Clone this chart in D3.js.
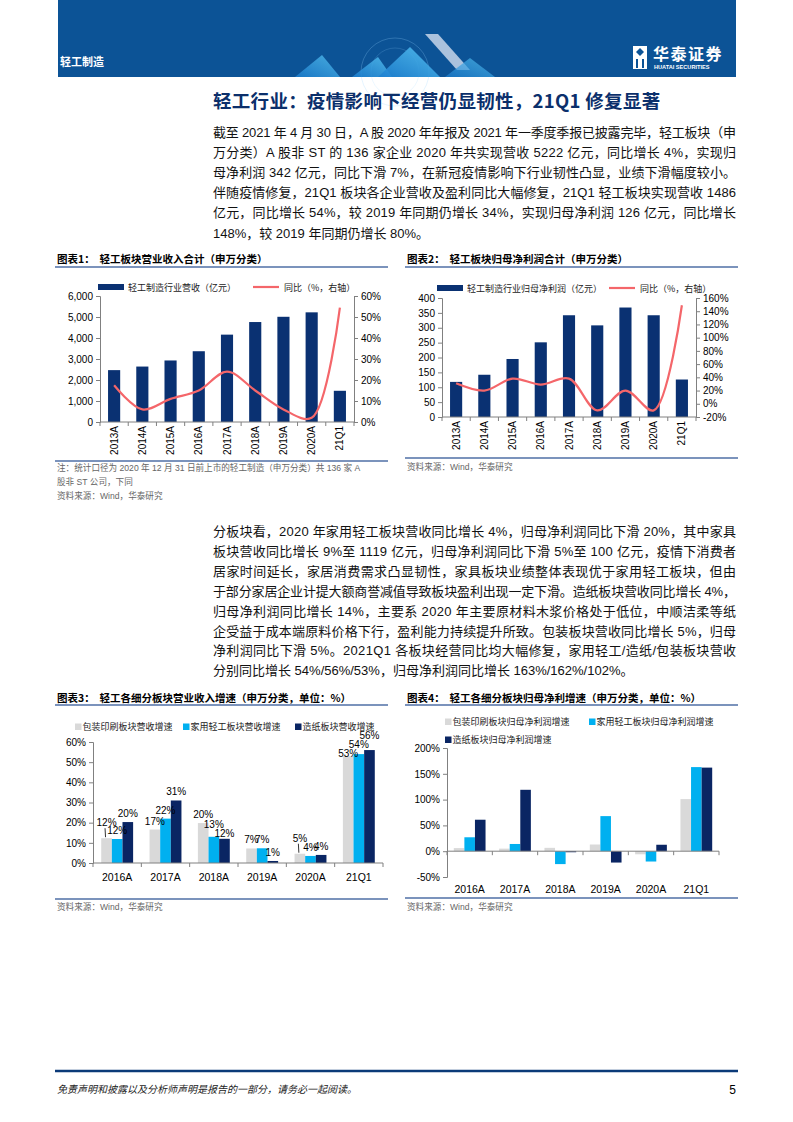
<!DOCTYPE html>
<html><head><meta charset="utf-8">
<script src="https://cdn.jsdelivr.net/npm/d3@7"></script>
<style>body{margin:0;background:#fff}svg{display:block}</style>
</head><body>
<svg id="page" width="793" height="1122"></svg>
<script>
// ---------------- DATA ----------------
const years = ["2013A","2014A","2015A","2016A","2017A","2018A","2019A","2020A","21Q1"];
const revenue = [2470,2640,2930,3370,4160,4760,5010,5222,1486];
const revenueYoY = [17.5,6,11,15,24,15,6,2,54.5];
const profit = [118,142,195,251,342,308,368,342,126];
const profitYoY = [31,20,38,29,38,-10,20,-10,149];
const revLeftTicks = [0,1000,2000,3000,4000,5000,6000];
const revRightTicks = [0,10,20,30,40,50,60];
const profLeftTicks = [0,50,100,150,200,250,300,350,400];
const profRightTicks = [-20,0,20,40,60,80,100,120,140,160];

const segCats = ["2016A","2017A","2018A","2019A","2020A","21Q1"];
const revSeriesNames = ["包装印刷板块营收增速","家用轻工板块营收增速","造纸板块营收增速"];
const pkgRev = [12.3,16.6,19.8,7.2,4.6,53];
const homeRev = [11.9,22,13,7.3,3.5,54];
const paperRev = [20.3,31,12,1,4,56];
const segRevTicks = [0,10,20,30,40,50,60];
const profSeriesNames = ["包装印刷板块归母净利润增速","家用轻工板块归母净利润增速","造纸板块归母净利润增速"];
const pkgProfit = [6,5,6.5,13,-6,101];
const homeProfit = [27,14,-25,68,-20,163];
const paperProfit = [61,119,-2,-22,12.5,162];
const segProfTicks = [-50,0,50,100,150,200];

const para1 = [
 "截至 2021 年 4 月 30 日，A 股 2020 年年报及 2021 年一季度季报已披露完毕，轻工板块（申",
 "万分类）A 股非 ST 的 136 家企业 2020 年共实现营收 5222 亿元，同比增长 4%，实现归",
 "母净利润 342 亿元，同比下滑 7%，在新冠疫情影响下行业韧性凸显，业绩下滑幅度较小。",
 "伴随疫情修复，21Q1 板块各企业营收及盈利同比大幅修复，21Q1 轻工板块实现营收 1486",
 "亿元，同比增长 54%，较 2019 年同期仍增长 34%，实现归母净利润 126 亿元，同比增长",
 "148%，较 2019 年同期仍增长 80%。"
];
const para2 = [
 "分板块看，2020 年家用轻工板块营收同比增长 4%，归母净利润同比下滑 20%，其中家具",
 "板块营收同比增长 9%至 1119 亿元，归母净利润同比下滑 5%至 100 亿元，疫情下消费者",
 "居家时间延长，家居消费需求凸显韧性，家具板块业绩整体表现优于家用轻工板块，但由",
 "于部分家居企业计提大额商誉减值导致板块盈利出现一定下滑。造纸板块营收同比增长 4%，",
 "归母净利润同比增长 14%，主要系 2020 年主要原材料木浆价格处于低位，中顺洁柔等纸",
 "企受益于成本端原料价格下行，盈利能力持续提升所致。包装板块营收同比增长 5%，归母",
 "净利润同比下滑 5%。2021Q1 各板块经营同比均大幅修复，家用轻工/造纸/包装板块营收",
 "分别同比增长 54%/56%/53%，归母净利润同比增长 163%/162%/102%。"
];

// ---------------- STYLE ----------------
const FONT = "'Liberation Sans', Arial, 'Noto Sans CJK SC', sans-serif";
const CJK = "'Noto Sans CJK SC', sans-serif";
const NAVY = "#0b2f6b";
const BAR = "#0a3172";
const RED = "#f4666a";
const GREY = "#d9d9d9";
const CYAN = "#00b0f0";
const DARK = "#0a2563";
const RULE = "#4f6fa6";

const svg = d3.select("#page");

// ---------------- HEADER ----------------
svg.append("rect").attr("x",58).attr("y",0).attr("width",678).attr("height",77).attr("fill","#0c5396");
const defs = svg.append("defs");
const g1 = defs.append("linearGradient").attr("id","gA").attr("x1",0).attr("y1",1).attr("x2",1).attr("y2",0);
g1.append("stop").attr("offset","0").attr("stop-color","#1c7fd0");
g1.append("stop").attr("offset","1").attr("stop-color","#57c3f2");
const hd = svg.append("g");
hd.append("circle").attr("cx",395).attr("cy",72).attr("r",34).attr("fill","none").attr("stroke","rgba(150,210,255,0.25)");
hd.append("circle").attr("cx",395).attr("cy",72).attr("r",24).attr("fill","none").attr("stroke","rgba(150,210,255,0.18)");
hd.append("polygon").attr("points","295,77 322,55 340,77").attr("fill","url(#gA)").attr("opacity",0.8);
hd.append("polygon").attr("points","352,77 378,57 392,77").attr("fill","url(#gA)").attr("opacity",0.85);
hd.append("polygon").attr("points","378,77 410,47 440,77").attr("fill","url(#gA)").attr("opacity",0.9);
hd.append("polygon").attr("points","425,34 438,34 470,70 457,70").attr("fill","#c8d6ea").attr("opacity",0.85);
hd.append("polygon").attr("points","445,77 470,58 495,77").attr("fill","url(#gA)").attr("opacity",0.7);
hd.append("text").attr("x",60).attr("y",66).attr("fill","#fff").attr("font-family",CJK).attr("font-weight",700).attr("font-size",11).text("轻工制造");
const lg = hd.append("g");
lg.append("rect").attr("x",633).attr("y",46).attr("width",14).attr("height",23).attr("fill","#fff");
lg.append("polygon").attr("points","636,52 640,48 644,52 640,56").attr("fill","#0c5396");
lg.append("rect").attr("x",636).attr("y",59).attr("width",2).attr("height",9).attr("fill","#0c5396");
lg.append("rect").attr("x",642).attr("y",59).attr("width",2).attr("height",9).attr("fill","#0c5396");
lg.append("text").attr("x",653).attr("y",60).attr("fill","#fff").attr("font-family",CJK).attr("font-weight",700).attr("font-size",16).attr("letter-spacing",1.5).text("华泰证券");
lg.append("text").attr("x",654).attr("y",69).attr("fill","#fff").attr("font-family",FONT).attr("font-weight",700).attr("font-size",5.6).text("HUATAI SECURITIES");

// ---------------- HEADING & TEXT ----------------
svg.append("text").attr("x",213).attr("y",108).attr("fill",NAVY).attr("font-family",CJK).attr("font-weight",700)
  .attr("font-size",18.5).attr("letter-spacing",0.3).text("轻工行业：疫情影响下经营仍显韧性，21Q1 修复显著");

function paragraph(lines, y0, step){
  lines.forEach((t,i)=>{
    const tx = svg.append("text").attr("x",213).attr("y",y0+i*step).attr("font-family",FONT)
      .attr("font-size",13).attr("fill","#111").text(t);
    if(i < lines.length-1) tx.attr("textLength",523).attr("lengthAdjust","spacing");
  });
}
paragraph(para1,137,20.1);
paragraph(para2,536,19.9);

// ---------------- helpers ----------------
function chartFrame(x0,x1,titleY,ruleY,title){
  svg.append("text").attr("x",x0+2).attr("y",titleY).attr("font-family",CJK).attr("font-weight",700)
    .attr("font-size",10.5).attr("fill","#000").attr("xml:space","preserve").text(title);
  svg.append("line").attr("x1",x0).attr("x2",x1).attr("y1",ruleY).attr("y2",ruleY).attr("stroke",RULE).attr("stroke-width",1.3);
}
function bottomRule(x0,x1,y){
  svg.append("line").attr("x1",x0).attr("x2",x1).attr("y1",y).attr("y2",y).attr("stroke",RULE).attr("stroke-width",1.3);
}
function smallText(x,y,t){
  svg.append("text").attr("x",x).attr("y",y).attr("font-family",FONT).attr("font-size",8.6).attr("fill","#666").text(t);
}
function styleAxis(g){
  g.selectAll(".domain").attr("stroke","#808080");
  g.selectAll(".tick line").attr("stroke","#808080");
  g.selectAll(".tick text").attr("font-family",FONT).attr("font-size",10).attr("fill","#000");
}

// ---------------- COMBO CHART ----------------
function combo(o){
  const g = svg.append("g");
  const x = d3.scaleBand().domain(years).range([o.x0,o.x1]).paddingInner(0.57).paddingOuter(0.285);
  const yL = d3.scaleLinear().domain(o.lDom).range([o.yB,o.yT]);
  const yR = d3.scaleLinear().domain(o.rDom).range([o.yB,o.yT]);
  g.selectAll("rect.bar").data(o.bars).join("rect").attr("class","bar")
    .attr("x",(d,i)=>x(years[i])).attr("width",x.bandwidth())
    .attr("y",d=>yL(d)).attr("height",d=>yL(o.lDom[0])-yL(d)).attr("fill",BAR);
  const la = g.append("g").attr("transform",`translate(${o.x0},0)`)
    .call(d3.axisLeft(yL).tickValues(o.lTicks).tickSize(4).tickPadding(3).tickFormat(d3.format(o.lFmt)));
  styleAxis(la);
  const ra = g.append("g").attr("transform",`translate(${o.x1},0)`)
    .call(d3.axisRight(yR).tickValues(o.rTicks).tickSize(4).tickPadding(3).tickFormat(d=>d+"%"));
  styleAxis(ra);
  const y0 = yL(0);
  g.append("line").attr("x1",o.x0).attr("x2",o.x1).attr("y1",y0).attr("y2",y0).attr("stroke","#808080");
  d3.range(years.length+1).forEach(i=>{
    const xx = o.x0 + x.step()*i;
    g.append("line").attr("x1",xx).attr("x2",xx).attr("y1",y0).attr("y2",y0+4).attr("stroke","#808080");
  });
  years.forEach(c=>{
    const cx = x(c)+x.bandwidth()/2+3.5;
    g.append("text").attr("transform",`translate(${cx},${o.yB+4}) rotate(-90)`).attr("text-anchor","end")
      .attr("font-family",FONT).attr("font-size",10).attr("fill","#000").text(c);
  });
  const line = d3.line().x((d,i)=>x(years[i])+x.bandwidth()/2).y(d=>yR(d)).curve(d3.curveCatmullRom.alpha(0.5));
  g.append("path").attr("d",line(o.line)).attr("fill","none").attr("stroke",RED).attr("stroke-width",2.2);
  g.append("rect").attr("x",o.lg[0]).attr("y",o.lgY-3).attr("width",26).attr("height",6).attr("fill",BAR);
  g.append("text").attr("x",o.lg[0]+30).attr("y",o.lgY+3.5).attr("font-family",CJK).attr("font-size",9).attr("fill","#222").text(o.barName);
  g.append("line").attr("x1",o.lg[1]).attr("x2",o.lg[1]+26).attr("y1",o.lgY).attr("y2",o.lgY).attr("stroke",RED).attr("stroke-width",2.2);
  g.append("text").attr("x",o.lg[1]+31).attr("y",o.lgY+3.5).attr("font-family",CJK).attr("font-size",9).attr("fill","#222").text("同比（%，右轴）");
}

chartFrame(55,388,263,267,"图表1：  轻工板块营业收入合计（申万分类）");
combo({x0:100,x1:354,yT:296,yB:422,bars:revenue,line:revenueYoY,lDom:[0,6000],rDom:[0,60],
  lTicks:revLeftTicks,rTicks:revRightTicks,lFmt:",",lg:[98,253],lgY:287,barName:"轻工制造行业营收（亿元）"});
bottomRule(55,388,461);
smallText(57,471,"注：统计口径为 2020 年 12 月 31 日前上市的轻工制造（申万分类）共 136 家 A");
smallText(57,485,"股非 ST 公司，下同");
smallText(57,499,"资料来源：Wind，华泰研究");

chartFrame(405,738,263,267,"图表2：  轻工板块归母净利润合计（申万分类）");
combo({x0:442,x1:696,yT:298,yB:417,bars:profit,line:profitYoY,lDom:[0,400],rDom:[-20,160],
  lTicks:profLeftTicks,rTicks:profRightTicks,lFmt:"d",lg:[437,609],lgY:288,barName:"轻工制造行业归母净利润（亿元）"});
bottomRule(405,738,458);
smallText(407,470,"资料来源：Wind，华泰研究");

// ---------------- GROUPED BAR ----------------
function grouped(o){
  const g = svg.append("g");
  const x = d3.scaleBand().domain(segCats).range([o.x0,o.x1]).paddingInner(o.pad).paddingOuter(o.pad/2);
  const xs = d3.scaleBand().domain([0,1,2]).range([0,x.bandwidth()]);
  const y = d3.scaleLinear().domain(o.dom).range([o.yB,o.yT]);
  const cols = [GREY,CYAN,DARK];
  o.series.forEach((vals,s)=>{
    g.selectAll("rect.s"+s).data(vals).join("rect").attr("class","s"+s)
      .attr("x",(d,i)=>x(segCats[i])+xs(s)).attr("width",xs.bandwidth())
      .attr("y",d=>y(Math.max(0,d))).attr("height",d=>Math.abs(y(d)-y(0))).attr("fill",cols[s]);
  });
  const ya = g.append("g").attr("transform",`translate(${o.x0},0)`)
    .call(d3.axisLeft(y).tickValues(o.ticks).tickSize(4).tickPadding(3).tickFormat(d=>d+"%"));
  styleAxis(ya);
  const y0 = y(0);
  g.append("line").attr("x1",o.x0).attr("x2",o.x1).attr("y1",y0).attr("y2",y0).attr("stroke","#808080");
  d3.range(segCats.length+1).forEach(i=>{
    const xx = o.x0 + x.step()*i;
    g.append("line").attr("x1",xx).attr("x2",xx).attr("y1",y0).attr("y2",y0+4).attr("stroke","#808080");
  });
  segCats.forEach(c=>{
    g.append("text").attr("x",x(c)+x.bandwidth()/2).attr("y",o.catY).attr("text-anchor","middle")
      .attr("font-family",FONT).attr("font-size",10.5).attr("fill","#000").text(c);
  });
  if(o.labels){
    const fmt = d3.format(".0f");
    segCats.forEach((c,i)=>{
      const L = o.series.map((vals,s)=>{
        const v = vals[i], top = y(v);
        const lifted = o.lift.some(p=>p[0]===c && p[1]===s);
        return {s, v, top, lifted, cx: x(c)+xs(s)+xs.bandwidth()/2, ly: lifted ? top-12 : top-5,
                maxY: top + (s===0 ? 10 : -1)};
      });
      for(let it=0; it<6; it++){
        for(let s=0; s<2; s++){
          const a=L[s], b=L[s+1];
          if(a.lifted||b.lifted||Math.abs(a.v-b.v)<0.8) continue;
          const d = Math.abs(a.ly-b.ly);
          if(d>=9) continue;
          const need = 9-d;
          const hi = a.v>b.v ? a : b, lo = a.v>b.v ? b : a;
          const down = Math.min(need/2, Math.max(0, lo.maxY-lo.ly));
          lo.ly += down; hi.ly -= (need-down);
        }
      }
      L.forEach(l=>{
        if(l.lifted){
          g.append("line").attr("x1",l.cx-1.5).attr("x2",l.cx-1).attr("y1",l.ly+2).attr("y2",l.top-1).attr("stroke","#000").attr("stroke-width",0.8);
        }
        g.append("text").attr("x",l.cx).attr("y",l.ly).attr("text-anchor","middle").attr("font-family",FONT)
          .attr("font-size",10).attr("fill","#000").text(fmt(l.v)+"%");
      });
    });
  }
  o.legend.forEach((p,s)=>{
    g.append("rect").attr("x",p[0]).attr("y",p[1]-3.5).attr("width",6.5).attr("height",6.5).attr("fill",cols[s]);
    g.append("text").attr("x",p[0]+7.5).attr("y",p[1]+3).attr("font-family",CJK).attr("font-size",9).attr("fill","#222").text(o.names[s]);
  });
}

chartFrame(55,388,702,705,"图表3：  轻工各细分板块营业收入增速（申万分类，单位：%）");
grouped({x0:93,x1:383,yT:742,yB:863,dom:[0,60],ticks:segRevTicks,pad:0.34,catY:881,
  series:[pkgRev,homeRev,paperRev],names:revSeriesNames,labels:true,
  lift:[["2016A",0],["2020A",0]],
  legend:[[75,727],[183,727],[295,727]]});
bottomRule(55,388,899);
smallText(57,910,"资料来源：Wind，华泰研究");

chartFrame(405,738,702,705,"图表4：  轻工各细分板块归母净利增速（申万分类，单位：%）");
grouped({x0:447,x1:719,yT:748,yB:877,dom:[-50,200],ticks:segProfTicks,pad:0.3,catY:893,
  series:[pkgProfit,homeProfit,paperProfit],names:profSeriesNames,labels:false,lift:[],
  legend:[[445,722],[589,722],[445,740]]});
bottomRule(405,738,898);
smallText(407,910,"资料来源：Wind，华泰研究");

// ---------------- FOOTER ----------------
svg.append("line").attr("x1",55).attr("x2",738).attr("y1",1071).attr("y2",1071).attr("stroke","#0b3a78").attr("stroke-width",2.5);
svg.append("text").attr("x",57).attr("y",1093).attr("font-family",CJK).attr("font-style","italic").attr("font-size",10).attr("fill","#222")
  .text("免责声明和披露以及分析师声明是报告的一部分，请务必一起阅读。");
svg.append("text").attr("x",736).attr("y",1094).attr("text-anchor","end").attr("font-family",FONT).attr("font-size",12).attr("fill","#000").text("5");
</script>
</body></html>
